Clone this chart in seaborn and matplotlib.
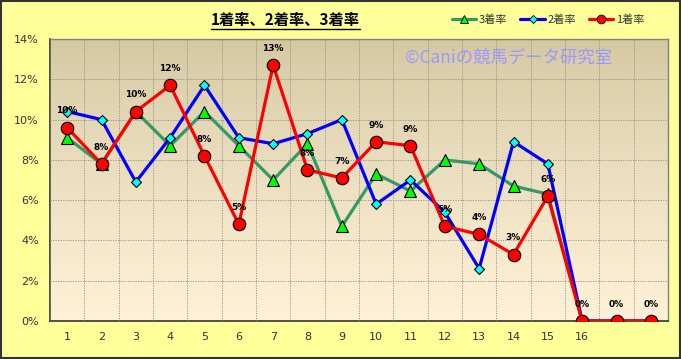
import numpy as np
import pandas as pd
import matplotlib
matplotlib.use("Agg")
import matplotlib.pyplot as plt
import seaborn as sns
from matplotlib.patches import Rectangle
from matplotlib.lines import Line2D
from matplotlib.ticker import FuncFormatter, FixedLocator

# ---- data ----
positions = list(range(1, 19))
tick_labels = [str(i) for i in range(1, 17)] + ["", ""]
rate1 = [9.6, 7.8, 10.4, 11.7, 8.2, 4.8, 12.7, 7.5, 7.1, 8.9, 8.7, 4.7, 4.3, 3.3, 6.2, 0, 0, 0]
rate2 = [10.4, 10.0, 6.9, 9.1, 11.7, 9.1, 8.8, 9.3, 10.0, 5.8, 7.0, 5.4, 2.6, 8.9, 7.8, 0, 0, 0]
rate3 = [9.1, 7.8, 10.4, 8.7, 10.4, 8.7, 7.0, 8.8, 4.7, 7.3, 6.45, 8.0, 7.8, 6.7, 6.3, 0, 0, 0]
series_names = ["3着率", "2着率", "1着率"]
title_text = "1着率、2着率、3着率"
watermark = "©Caniの競馬データ研究室"

df = pd.DataFrame({
    "pos": positions * 3,
    "rate": [v / 100 for v in rate3 + rate2 + rate1],
    "series": [series_names[0]] * 18 + [series_names[1]] * 18 + [series_names[2]] * 18,
})

sns.set_theme(style="white")
plt.rcParams['font.family'] = ['Noto Sans CJK JP', 'DejaVu Sans']

W, H = 681, 359
fig = plt.figure(figsize=(W / 100, H / 100), dpi=100)
fig.patch.set_facecolor("#FFFF99")
x0, x1, y0, y1 = 50, 668, 39, 321
ax = fig.add_axes([x0 / W, 1 - y1 / H, (x1 - x0) / W, (y1 - y0) / H])

# gradient background
top = np.array([211, 198, 160]) / 255
bot = np.array([254, 241, 215]) / 255
t = np.linspace(0, 1, 256)[:, None] ** 0.75
grad = (top * (1 - t) + bot * t)[:, None, :]
ax.imshow(grad, extent=[0, 1, 0, 1], transform=ax.transAxes, aspect="auto", zorder=0)

styles = {
    "3着率": dict(color="#339966", marker="^", mfc="#00FF00", ms=8),
    "2着率": dict(color="#0000FF", marker="D", mfc="#00FFFF", ms=5.5),
    "1着率": dict(color="#FF0000", marker="o", mfc="#FF0000", ms=9),
}
for name in series_names:
    st = styles[name]
    sub = df[df["series"] == name]
    sns.lineplot(data=sub, x="pos", y="rate", ax=ax, color=st["color"], lw=2.3,
                 marker=st["marker"], markersize=st["ms"], markerfacecolor=st["mfc"],
                 markeredgecolor="#000000", markeredgewidth=0.8, zorder=3, legend=False)

# data labels for 1着率
for p, v in zip(positions, rate1):
    ax.annotate(f"{v:.0f}%", (p, v / 100), xytext=(0, 12), textcoords="offset points",
                ha="center", va="center", fontsize=6.5, fontweight="bold",
                family=["DejaVu Sans"], color="#000000", zorder=5)

ax.set_xlim(0.5, 18.5)
ax.set_ylim(0, 0.14)
ax.xaxis.set_major_locator(FixedLocator(positions))
ax.set_xticklabels(tick_labels)
ax.xaxis.set_minor_locator(FixedLocator([i + 0.5 for i in range(0, 19)]))
ax.set_yticks(np.arange(0, 0.141, 0.02))
ax.yaxis.set_major_formatter(FuncFormatter(lambda v, _: f"{v*100:.0f}%"))
ax.grid(False)
ax.grid(True, which="minor", axis="x", color="#8C8C8C", ls=(0, (1.5, 1.5)), lw=0.6, zorder=1)
ax.grid(True, which="major", axis="y", color="#8C8C8C", ls=(0, (1.5, 1.5)), lw=0.6, zorder=1)
ax.set_axisbelow(False)
ax.tick_params(axis="both", which="both", length=0, labelsize=8, labelcolor="#333333")
ax.tick_params(axis="x", pad=8)
ax.tick_params(axis="y", pad=8)
for lab in ax.get_xticklabels() + ax.get_yticklabels():
    lab.set_family(["DejaVu Sans"])
ax.set_xlabel("")
ax.set_ylabel("")
for s in ["left", "bottom"]:
    ax.spines[s].set_color("#333333")
    ax.spines[s].set_linewidth(1.2)
for s in ["top", "right"]:
    ax.spines[s].set_color("#808080")
    ax.spines[s].set_linewidth(1.0)

# watermark
ax.text((405 - x0) / (x1 - x0), 0.935, watermark, transform=ax.transAxes, ha="left", va="center",
        fontsize=12.5, color="#9999FF", zorder=2)

# title with underline
ttl = fig.text(285 / W, 1 - 20 / H, title_text, ha="center", va="center",
               fontsize=11, fontweight="bold", color="#000000")
fig.canvas.draw()
bb = ttl.get_window_extent(fig.canvas.get_renderer())
uy = (bb.y0 - 1) / H
fig.add_artist(Line2D([bb.x0 / W, bb.x1 / W], [uy, uy], color="#000000", lw=1.0,
                      transform=fig.transFigure))

# legend
handles = []
for name in series_names:
    st = styles[name]
    handles.append(Line2D([0], [0], color=st["color"], lw=2.3, marker=st["marker"],
                          markersize=st["ms"] * 0.7, markerfacecolor=st["mfc"],
                          markeredgecolor="#000000", markeredgewidth=0.6))
fig.legend(handles, series_names, loc="center", bbox_to_anchor=(548 / W, 1 - 20 / H),
           ncol=3, frameon=False, fontsize=8, handlelength=2.2, handletextpad=0.2,
           columnspacing=1.2, labelcolor="#333333")

# figure border
fig.add_artist(Rectangle((0.001, 0.002), 0.997, 0.995, transform=fig.transFigure,
                         fill=False, edgecolor="#333333", lw=1.5))

fig.savefig("out.png", dpi=100, facecolor=fig.get_facecolor())
